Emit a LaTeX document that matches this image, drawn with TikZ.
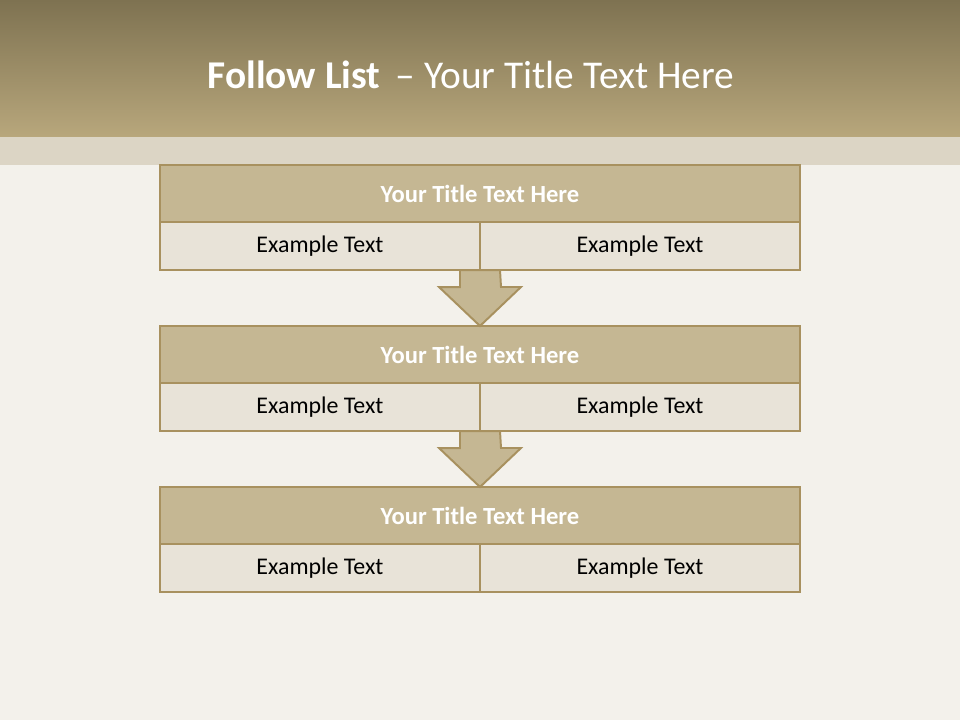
\documentclass[tikz,border=0pt]{standalone}
\usepackage{fontspec}
\setmainfont{Carlito}
\usetikzlibrary{positioning, calc}

\definecolor{barTop}{HTML}{7E7251}
\definecolor{barBot}{HTML}{B8A77C}
\definecolor{band}{HTML}{DCD5C5}
\definecolor{paper}{HTML}{F3F1EB}
\definecolor{frame}{HTML}{A8915F}
\definecolor{head}{HTML}{C5B793}
\definecolor{cell}{HTML}{E8E3D8}

\begin{document}
\begin{tikzpicture}[
  x=0.025cm, y=-0.025cm,
  headcell/.style={draw=frame, fill=head, line width=1.8pt, text=white,
                   minimum width=16cm, minimum height=1.425cm, inner sep=0pt,
                   outer sep=0pt, font=\bfseries\fontsize{17.5}{21}\selectfont},
  itemcell/.style={draw=frame, fill=cell, line width=1.8pt, text=black,
                   minimum width=8cm, minimum height=1.2cm, inner sep=0pt,
                   outer sep=0pt, anchor=north west,
                   font=\fontsize{17}{20}\selectfont},
  flowarr/.style={draw=frame, fill=head, line width=1.4pt, line join=miter}
]

  % ========== BACKGROUND ==========
  \useasboundingbox (0,0) rectangle (960,720);
  \fill[paper] (0,0) rectangle (960,720);
  \shade[top color=barTop, bottom color=barBot] (0,0) rectangle (960,137);
  \fill[band] (0,137) rectangle (960,165);

  \node[text=white, font=\fontsize{28}{34}\selectfont] (title) at (471,75)
    {\textbf{Follow List} \,-- Your Title Text Here};

  % ========== STAGE 1 ==========
  \node[headcell] (head1) at (480,193.5) {Your Title Text Here};
  \node[itemcell] (left1) at (head1.south west) {Example Text};
  \node[itemcell, right=0pt of left1] (right1) {Example Text};

  % ========== STAGE 2 ==========
  \node[headcell] (head2) at (480,354.5) {Your Title Text Here};
  \node[itemcell] (left2) at (head2.south west) {Example Text};
  \node[itemcell, right=0pt of left2] (right2) {Example Text};

  % ========== STAGE 3 ==========
  \node[headcell] (head3) at (480,515.5) {Your Title Text Here};
  \node[itemcell] (left3) at (head3.south west) {Example Text};
  \node[itemcell, right=0pt of left3] (right3) {Example Text};

  % ======== ARROWS: stage to stage ========
  \draw[flowarr] ($(left1.south east)+(-20,0)$) -- ++(0,17) -- ++(-21,0)
    -- (head2.north) -- ++(41,-39) -- ++(-20,0)
    -- ($(left1.south east)+(20,0)$) -- cycle;

  \draw[flowarr] ($(left2.south east)+(-20,0)$) -- ++(0,17) -- ++(-21,0)
    -- (head3.north) -- ++(41,-39) -- ++(-20,0)
    -- ($(left2.south east)+(20,0)$) -- cycle;

\end{tikzpicture}
\end{document}
